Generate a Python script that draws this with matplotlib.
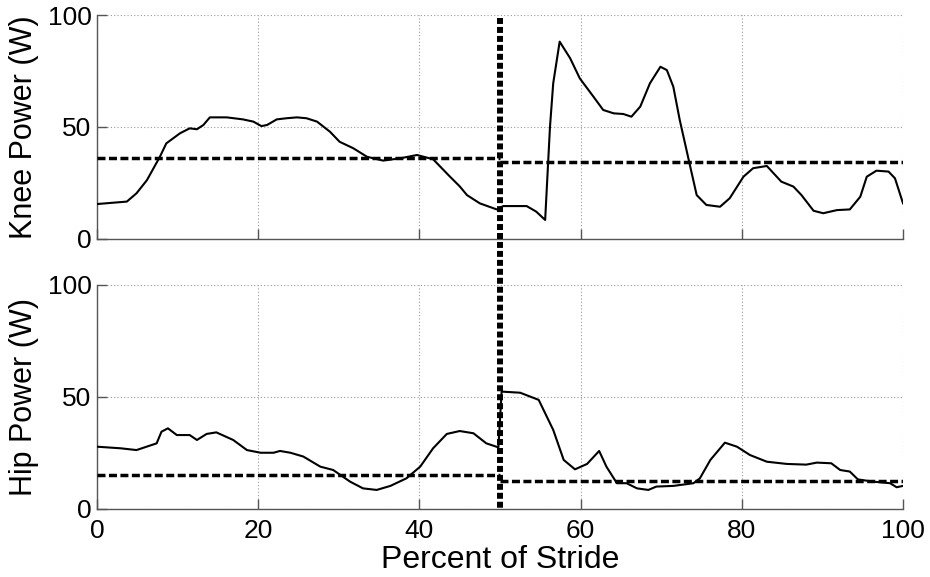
import matplotlib
matplotlib.use("Agg")
import matplotlib.pyplot as plt
from matplotlib.lines import Line2D

# ---------------- data ----------------
knee_pct = [0, 3.7, 4.9, 6.2, 7.8, 8.6, 10.3, 11.5, 12.4, 13.2, 14.0, 16.1, 18.1, 19.4,
            20.4, 21.1, 22.3, 23.5, 24.8, 26.0, 27.3, 28.9, 30.1, 31.8, 33.5, 35.5, 37.6,
            39.7, 41.7, 43.8, 45.0, 45.9, 47.5, 49.6, 50.4, 53.3, 54.5, 55.6, 56.2, 56.6,
            57.4, 58.7, 59.9, 61.6, 62.8, 64.1, 65.3, 66.3, 67.4, 68.6, 69.9, 70.7, 71.5,
            72.3, 73.6, 74.4, 75.6, 77.3, 78.5, 80.2, 81.4, 83.1, 84.9, 86.4, 87.4, 88.9,
            90.1, 91.8, 93.4, 94.7, 95.5, 96.7, 98.2, 99.0, 100]
knee_w = [15.6, 16.7, 20.4, 26.3, 36.7, 42.7, 47.2, 49.4, 49.0, 50.9, 54.3, 54.3, 53.4, 52.4,
          50.4, 50.9, 53.4, 53.9, 54.3, 53.9, 52.4, 47.9, 43.4, 40.5, 36.7, 35.0, 36.0,
          37.5, 35.6, 27.8, 23.5, 19.6, 15.9, 13.2, 14.7, 14.7, 12.2, 8.5, 50.1, 69.5,
          88.1, 80.7, 71.7, 63.5, 57.6, 56.1, 55.8, 54.6, 59.1, 69.5, 76.9, 75.4, 68.0,
          53.1, 32.3, 19.6, 15.2, 14.4, 18.2, 27.8, 31.6, 32.6, 25.6, 23.4, 19.6, 12.6,
          11.5, 12.9, 13.2, 18.9, 27.8, 30.5, 30.1, 27.1, 15.9]

hip_pct = [0, 2.9, 4.9, 7.4, 8.0, 8.8, 9.9, 11.5, 12.4, 13.6, 14.8, 16.9, 18.6, 20.3,
           21.9, 22.7, 24.0, 25.6, 27.7, 29.3, 31.4, 33.0, 34.7, 36.4, 38.4, 40.1, 41.7,
           43.4, 45.0, 46.7, 48.3, 49.8, 50.2, 52.5, 54.8, 56.6, 57.9, 59.3, 60.8, 62.3,
           63.2, 64.5, 65.7, 67.0, 68.4, 69.4, 71.5, 74.0, 74.8, 76.1, 77.9, 79.4, 81.0,
           83.1, 85.6, 88.0, 89.3, 91.1, 92.2, 93.4, 94.4, 96.3, 98.4, 99.2, 100]
hip_w = [27.8, 27.1, 26.3, 29.3, 34.5, 36.0, 33.0, 33.0, 30.8, 33.5, 34.2, 30.8, 26.3, 25.1,
         25.1, 25.9, 25.1, 23.4, 18.9, 17.4, 12.2, 9.2, 8.5, 10.3, 13.7, 18.9, 27.1,
         33.5, 34.8, 33.8, 29.3, 27.5, 52.4, 51.9, 48.7, 35.3, 21.9, 17.7, 20.1, 25.9,
         18.9, 11.5, 11.5, 9.2, 8.5, 10.0, 10.3, 11.5, 13.7, 21.9, 29.6, 27.8, 24.1,
         21.1, 20.1, 19.8, 20.7, 20.4, 17.4, 16.7, 13.2, 12.2, 11.5, 9.7, 10.3]

split_pct = 50
knee_mean = [36.0, 34.5]   # stance, swing
hip_mean = [15.0, 12.6]

x_ticks = [0, 20, 40, 60, 80, 100]
y_ticks = [0, 50, 100]

# ---------------- figure ----------------
plt.rcParams['font.family'] = ['Liberation Sans', 'DejaVu Sans']
fig = plt.figure(figsize=(9.3, 5.77), dpi=100)
ax1 = fig.add_axes([0.1043, 0.5858, 0.8667, 0.3882])
ax2 = fig.add_axes([0.1043, 0.1179, 0.8667, 0.3882])

mean_style = dict(color='black', lw=2.5, linestyle=(0, (2.3, 1.0)))

for ax, pct, w, means, lab in [(ax1, knee_pct, knee_w, knee_mean, 'Knee Power (W)'),
                                (ax2, hip_pct, hip_w, hip_mean, 'Hip Power (W)')]:
    ax.plot(pct, w, color='black', lw=1.5, zorder=3)
    ax.hlines(means[0], 0, split_pct, **mean_style, zorder=4)
    ax.hlines(means[1], split_pct, 100, **mean_style, zorder=4)
    ax.set_xlim(0, 100)
    ax.set_ylim(0, 100)
    ax.set_xticks(x_ticks)
    ax.set_yticks(y_ticks)
    ax.grid(True, linestyle=(0, (1, 2)), color='#999999', lw=0.8)
    ax.spines['top'].set_visible(False)
    ax.spines['right'].set_visible(False)
    for s in ('left', 'bottom'):
        ax.spines[s].set_color('#555555')
        ax.spines[s].set_linewidth(1.0)
    ax.tick_params(direction='in', length=7, width=1.0, color='#555555',
                   labelsize=19, pad=4)
    ax.tick_params(axis='x', pad=7)
    ax.set_ylabel(lab, fontsize=22)
    ax.yaxis.set_label_coords(-0.072, 0.5)

ax1.tick_params(axis='x', labelbottom=False)
ax2.set_xlabel('Percent of Stride', fontsize=23, labelpad=2)

# thick vertical split line across both panels (drawn at figure level, on top)
p1 = ax1.get_position()
p2 = ax2.get_position()
y_bottom = (p2.y0 - p1.y0) / p1.height
vline = Line2D([split_pct, split_pct], [0.985, y_bottom],
               transform=ax1.get_xaxis_transform(), clip_on=False,
               color='black', lw=4.3, linestyle=(0, (1.0, 0.5)),
               solid_capstyle='butt', dash_capstyle='butt', zorder=10)
fig.add_artist(vline)

fig.savefig('out.png', dpi=100)
